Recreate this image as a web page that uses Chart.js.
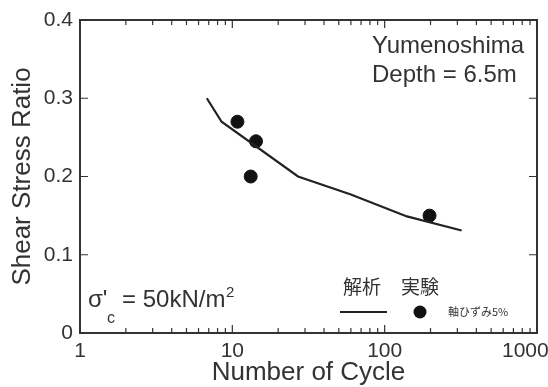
<!DOCTYPE html>
<html>
<head>
<meta charset="utf-8">
<script src="https://cdn.jsdelivr.net/npm/chart.js@4/dist/chart.umd.min.js"></script>
<style>
  html, body { margin: 0; padding: 0; background: #fff; }
  #wrap { width: 548px; height: 387px; }
</style>
</head>
<body>
<div id="wrap"><canvas id="cycleChart"></canvas></div>
<script>
// analysis curve (解析)
const lineCycles = [6.8, 8.5, 27, 60, 100, 140, 320];
const lineRatio = [0.30, 0.27, 0.20, 0.177, 0.16, 0.149, 0.131];
// test results (実験, 軸ひずみ5%)
const testCycles = [10.8, 14.3, 13.2, 197];
const testRatio = [0.27, 0.245, 0.20, 0.15];
// tick labels
const xTicks = [1, 10, 100, 1000];
const yTicks = [0, 0.1, 0.2, 0.3, 0.4];

const ink = '#333';
const font = '"Liberation Sans", Arial, sans-serif';

const toPoints = (xs, ys) => xs.map((x, i) => ({ x: x, y: ys[i] }));

// frame, inward ticks, titles and legend
const framePlugin = {
  id: 'frame',
  afterDraw(chart) {
    const ctx = chart.ctx;
    const a = chart.chartArea;
    const xs = chart.scales.x;
    const ys = chart.scales.y;
    ctx.save();
    ctx.strokeStyle = ink;
    ctx.lineWidth = 2;
    ctx.strokeRect(a.left, a.top, a.right - a.left, a.bottom - a.top);

    ctx.lineWidth = 1.2;
    ctx.beginPath();
    for (let d = 1; d < 1000; d *= 10) {
      for (let m = 1; m <= 10; m++) {
        const px = xs.getPixelForValue(d * m);
        const len = (m === 1 || m === 10) ? 8 : 5;
        ctx.moveTo(px, a.bottom); ctx.lineTo(px, a.bottom - len);
        ctx.moveTo(px, a.top); ctx.lineTo(px, a.top + len);
      }
    }
    yTicks.forEach(v => {
      const py = ys.getPixelForValue(v);
      ctx.moveTo(a.left, py); ctx.lineTo(a.left + 8, py);
      ctx.moveTo(a.right, py); ctx.lineTo(a.right - 8, py);
    });
    ctx.stroke();

    ctx.fillStyle = ink;
    ctx.textAlign = 'center';
    ctx.textBaseline = 'middle';
    ctx.font = '26px ' + font;
    ctx.fillText('Number of Cycle', (a.left + a.right) / 2, 373);
    ctx.save();
    ctx.translate(23, (a.top + a.bottom) / 2);
    ctx.rotate(-Math.PI / 2);
    ctx.fillText('Shear Stress Ratio', 0, 0);
    ctx.restore();

    ctx.textAlign = 'left';
    ctx.font = '24px ' + font;
    ctx.fillText('Yumenoshima', 372, 46);
    ctx.fillText('Depth = 6.5m', 372, 75);

    ctx.textBaseline = 'alphabetic';
    ctx.font = '24px ' + font;
    ctx.fillText('\u03c3\'', 88, 307);
    ctx.font = '16px ' + font;
    ctx.fillText('c', 107, 323);
    ctx.font = '24px ' + font;
    ctx.fillText('= 50kN/m', 122, 307);
    ctx.font = '15px ' + font;
    ctx.fillText('2', 226, 297);

    ctx.textAlign = 'center';
    ctx.textBaseline = 'middle';
    ctx.font = '19px "Noto Sans CJK JP", sans-serif';
    ctx.fillText('解析', 362, 287);
    ctx.fillText('実験', 420, 287);
    ctx.font = '11px "Noto Sans CJK JP", sans-serif';
    ctx.textAlign = 'left';
    ctx.fillText('軸ひずみ5%', 448, 312);

    ctx.strokeStyle = '#222';
    ctx.lineWidth = 2;
    ctx.beginPath();
    ctx.moveTo(340, 312); ctx.lineTo(387, 312);
    ctx.stroke();
    ctx.fillStyle = '#111';
    ctx.beginPath();
    ctx.arc(420, 312, 6.5, 0, Math.PI * 2);
    ctx.fill();
    ctx.restore();
  }
};

new Chart(document.getElementById('cycleChart').getContext('2d'), {
  type: 'scatter',
  data: {
    datasets: [
      {
        label: '解析',
        data: toPoints(lineCycles, lineRatio),
        showLine: true,
        borderColor: '#222',
        borderWidth: 2.2,
        pointRadius: 0,
        fill: false
      },
      {
        label: '実験',
        data: toPoints(testCycles, testRatio),
        backgroundColor: '#111',
        borderColor: '#111',
        pointRadius: 6.5
      }
    ]
  },
  options: {
    responsive: true,
    maintainAspectRatio: false,
    animation: false,
    layout: { padding: { top: 20, right: 11, left: 0, bottom: 0 } },
    plugins: {
      legend: { display: false },
      tooltip: { enabled: false }
    },
    scales: {
      x: {
        type: 'logarithmic',
        min: 1,
        max: 1000,
        afterFit(scale) {
          scale.height = 54;
          scale.paddingLeft = 0;
          scale.paddingRight = 0;
        },
        afterBuildTicks(scale) { scale.ticks = xTicks.map(v => ({ value: v })); },
        grid: { display: false, drawTicks: false },
        border: { display: false },
        ticks: {
          padding: 6,
          maxRotation: 0,
          autoSkip: false,
          color: ink,
          font: { family: font, size: 21 },
          // last label sits against the canvas edge, so pad it to pull it left
          callback: v => v === 1000 ? '1000\u00a0\u00a0\u00a0\u00a0' : String(v)
        }
      },
      y: {
        min: 0,
        max: 0.4,
        afterFit(scale) {
          scale.width = 80;
          scale.paddingTop = 0;
          scale.paddingBottom = 0;
        },
        afterBuildTicks(scale) { scale.ticks = yTicks.map(v => ({ value: v })); },
        grid: { display: false, drawTicks: false },
        border: { display: false },
        ticks: {
          padding: 7,
          color: ink,
          font: { family: font, size: 21 },
          callback: v => v === 0 ? '0' : v.toFixed(1)
        }
      }
    }
  },
  plugins: [framePlugin]
});
</script>
</body>
</html>
